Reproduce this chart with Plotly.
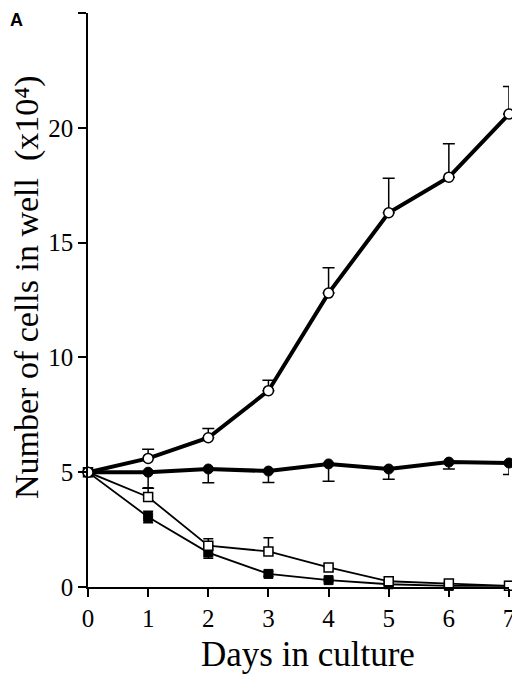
import plotly.graph_objects as go

days = [0, 1, 2, 3, 4, 5, 6, 7]

open_circle = [5.0, 5.6, 6.5, 8.55, 12.8, 16.3, 17.85, 20.6]
open_circle_err_up = [0.0, 0.4, 0.4, 0.45, 1.1, 1.5, 1.45, 1.2]

filled_circle = [5.0, 5.0, 5.14, 5.05, 5.36, 5.14, 5.44, 5.4]
filled_circle_err_down = [0.0, 0.7, 0.6, 0.5, 0.75, 0.45, 0.3, 0.5]

open_square = [5.0, 3.92, 1.8, 1.55, 0.85, 0.25, 0.15, 0.05]
open_square_err_up = [0.0, 0.4, 0.3, 0.6, 0.1, 0.05, 0.05, 0.02]

filled_square = [5.0, 3.05, 1.5, 0.57, 0.3, 0.12, 0.05, 0.05]
filled_square_err = [0.0, 0.25, 0.25, 0.1, 0.05, 0.05, 0.05, 0.05]

y_ticks = [0, 5, 10, 15, 20, 25]

fig = go.Figure()

fig.add_trace(go.Scatter(
    x=days, y=filled_square, mode="lines+markers",
    line=dict(color="black", width=1.8),
    marker=dict(symbol="square", size=9, color="black", line=dict(color="black", width=1)),
    error_y=dict(type="data", symmetric=True, array=filled_square_err,
                 color="black", thickness=1.5, width=5),
    showlegend=False))

fig.add_trace(go.Scatter(
    x=days, y=open_square, mode="lines+markers",
    line=dict(color="black", width=1.8),
    marker=dict(symbol="square", size=9, color="white", line=dict(color="black", width=1.5)),
    error_y=dict(type="data", symmetric=False, array=open_square_err_up,
                 arrayminus=[0]*len(days), color="black", thickness=1.5, width=5),
    showlegend=False))

fig.add_trace(go.Scatter(
    x=days, y=filled_circle, mode="lines+markers",
    line=dict(color="black", width=4),
    marker=dict(symbol="circle", size=10, color="black", line=dict(color="black", width=1)),
    error_y=dict(type="data", symmetric=False, array=[0]*len(days),
                 arrayminus=filled_circle_err_down, color="black", thickness=1.5, width=6),
    showlegend=False))

fig.add_trace(go.Scatter(
    x=days, y=open_circle, mode="lines+markers",
    line=dict(color="black", width=4),
    marker=dict(symbol="circle", size=10, color="white", line=dict(color="black", width=1.5)),
    error_y=dict(type="data", symmetric=False, array=open_circle_err_up,
                 arrayminus=[0]*len(days), color="black", thickness=1.5, width=6),
    showlegend=False))

fig.update_traces(cliponaxis=False)

# page body adds an 8px margin, so the figure is sized/placed to compensate
fig.update_layout(
    width=512, height=667,
    margin=dict(l=80, r=11, t=5, b=88),
    plot_bgcolor="white", paper_bgcolor="white",
    font=dict(family="Liberation Serif", color="black"),
    xaxis=dict(range=[0, 7], tickvals=days, ticks="outside", ticklen=8,
               tickwidth=1.5, tickcolor="black", showline=True, linecolor="black",
               linewidth=1.5, showgrid=False, zeroline=False, automargin=False,
               tickfont=dict(size=25, family="Liberation Serif")),
    yaxis=dict(range=[0, 25], tickvals=y_ticks, ticks="outside", ticklen=8,
               tickwidth=1.5, tickcolor="black", showline=True, linecolor="black",
               linewidth=1.5, showgrid=False, zeroline=False, automargin=False,
               tickfont=dict(size=25, family="Liberation Serif")),
)

fig.add_annotation(text="Days in culture", x=0.5226, y=0, xref="paper", yref="paper",
                   xanchor="center", yanchor="middle", yshift=-67, showarrow=False,
                   font=dict(family="Liberation Serif", size=35, color="black"))

fig.add_annotation(text="Number of cells in well  (x10⁴)", textangle=-90,
                   x=0, y=0.5226, xref="paper", yref="paper",
                   xanchor="center", yanchor="middle", xshift=-61, showarrow=False,
                   font=dict(family="Liberation Serif", size=34, color="black"))

fig.add_annotation(text="<b>A</b>", x=0.0, y=1.0, xref="paper", yref="paper",
                   xanchor="left", yanchor="top", showarrow=False,
                   font=dict(family="Liberation Sans", size=18, color="black"),
                   xshift=-80, yshift=5)

fig.write_html("out.html")
